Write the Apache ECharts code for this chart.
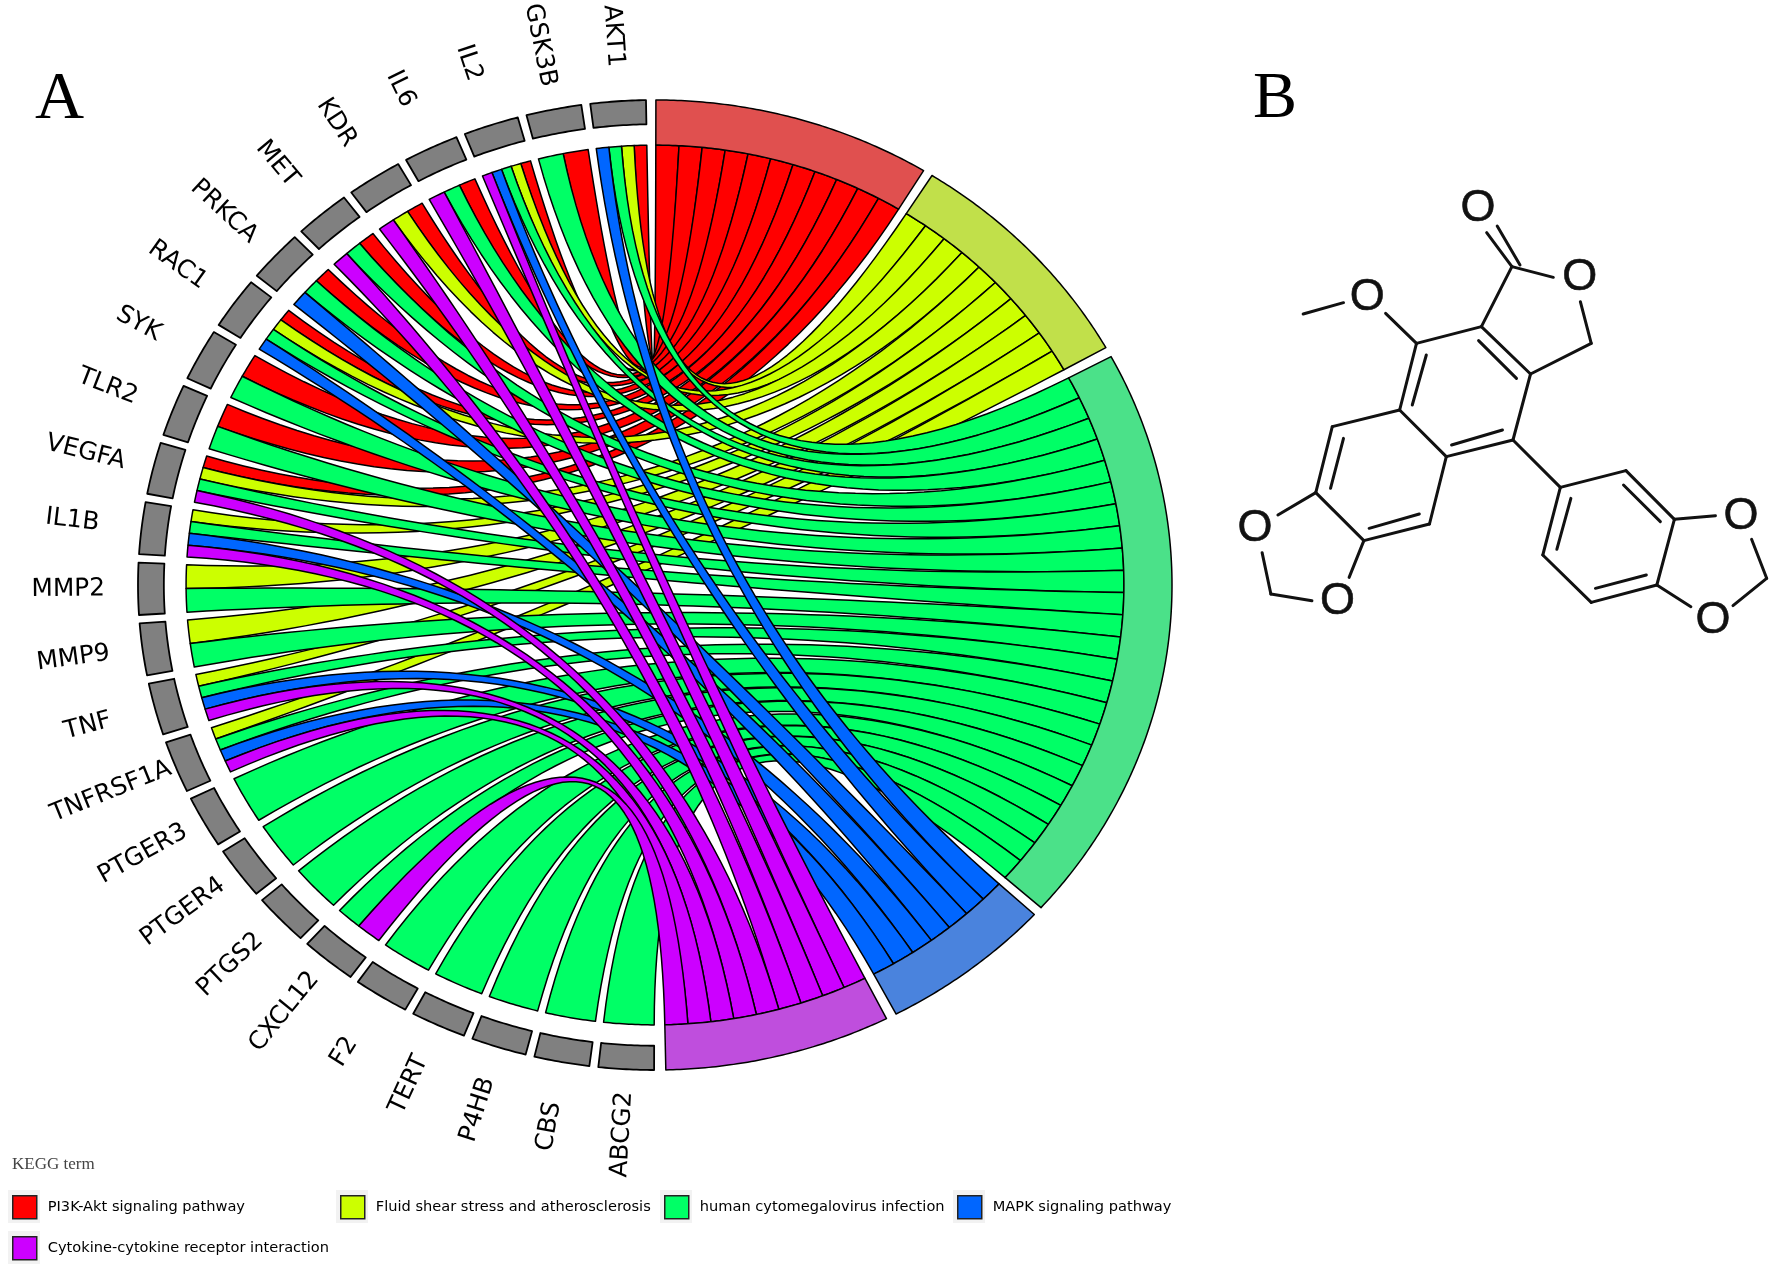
<!DOCTYPE html>
<html><head><meta charset="utf-8">
<style>html,body{margin:0;padding:0;background:#fff}#c{width:1770px;height:1268px}</style>
<script src="https://cdn.jsdelivr.net/npm/echarts@6/dist/echarts.min.js"></script>
</head><body><div id="c"></div>
<script>
// ---- data ----
const genes = ['AKT1','GSK3B','IL2','IL6','KDR','MET','PRKCA','RAC1','SYK','TLR2','VEGFA','IL1B','MMP2','MMP9','TNF','TNFRSF1A','PTGER3','PTGER4','PTGS2','CXCL12','F2','TERT','P4HB','CBS','ABCG2'];
const terms = ['PI3K-Akt signaling pathway','Fluid shear stress and atherosclerosis','human cytomegalovirus infection','MAPK signaling pathway','Cytokine-cytokine receptor interaction'];
const pi3kGenes = ['AKT1','GSK3B','IL2','IL6','KDR','MET','PRKCA','RAC1','SYK','TLR2','VEGFA'];
const fluidGenes = ['AKT1','IL2','KDR','RAC1','VEGFA','IL1B','MMP2','MMP9','TNF','TNFRSF1A'];
const hcmvGenes = ['AKT1','GSK3B','IL2','IL6','MET','PRKCA','RAC1','SYK','TLR2','VEGFA','IL1B','MMP2','MMP9','TNF','TNFRSF1A','PTGER3','PTGER4','PTGS2','CXCL12','F2','TERT','P4HB','CBS','ABCG2'];
const mapkGenes = ['AKT1','IL2','PRKCA','RAC1','IL1B','TNF','TNFRSF1A'];
const cytokineGenes = ['IL2','IL6','KDR','MET','VEGFA','IL1B','TNF','TNFRSF1A','CXCL12'];
const termGenes = [pi3kGenes, fluidGenes, hcmvGenes, mapkGenes, cytokineGenes];

// ---- styling / layout ----
const ribbonColors = ['#FF0000','#CCFF00','#00FF66','#0066FF','#CC00FF'];
const bandColors = ['#E0504F','#C1E04A','#4BE189','#4A83DD','#BF4EDD'];
const termStartDeg = [0.1,32.4,61.9,132.8,153.4];
const termEndDeg = [31.3,60.7,131.7,152.2,178.8];
const geneFirstDeg = 359, geneLastDeg = 180.1, geneGapDeg = 1;
const R_OUT = 1, R_IN = 0.907, R_GENE_OUT = 1, R_GENE_IN = 0.95, R_LABEL = 1.135;
const CX = 655, CY = 585, RX = 517, RY = 485, W = 1770, H = 1268;
const rad = d => d * Math.PI / 180;
const unit = (r, deg) => [r * Math.sin(rad(deg)), r * Math.cos(rad(deg))];
const genePeriod = (geneFirstDeg - geneLastDeg + geneGapDeg) / genes.length;
const geneBlock = genePeriod - geneGapDeg;
const geneHi = i => geneFirstDeg - i * genePeriod;

function arc(r, a, b) {
  const n = Math.max(2, Math.ceil(Math.abs(b - a) / 0.4));
  const p = [];
  for (let i = 0; i <= n; i++) p.push(unit(r, a + (b - a) * i / n));
  return p;
}
function quadViaCentre(p0, p2) {
  const p = [];
  for (let i = 1; i < 48; i++) {
    const t = i / 48, u = 1 - t;
    p.push([u * u * p0[0] + t * t * p2[0], u * u * p0[1] + t * t * p2[1]]);
  }
  return p;
}
const bandShape = (r0, r1, a, b) => arc(r1, a, b).concat(arc(r0, b, a));

// ribbon table built from the lists above
const geneTermsOf = g => terms.map((_, t) => t).filter(t => termGenes[t].includes(g));
function ribbonRows(t) {
  const n = termGenes[t].length, step = (termEndDeg[t] - termStartDeg[t]) / n;
  return termGenes[t].map((g, k) => {
    const gi = genes.indexOf(g), own = geneTermsOf(g), sub = geneBlock / own.length, q = own.indexOf(t);
    const gHi = geneHi(gi) - q * sub;
    return [gHi - sub, gHi, termStartDeg[t] + k * step, termStartDeg[t] + (k + 1) * step];
  });
}

const xAxis = {type:'value', min:(0 - CX) / RX, max:(W - CX) / RX, show:false};
const yAxis = {type:'value', min:(CY - H) / RY, max:CY / RY, show:false};

const polygon = (api, pts, fill, lw) => ({
  type:'polygon',
  shape:{points:pts.map(p => api.coord(p))},
  style:{fill, stroke:'#000', lineWidth:lw, lineJoin:'round'}
});

const ribbonSeries = terms.map((name, t) => ({
  type:'custom', name, coordinateSystem:'cartesian2d', silent:true, clip:false, z:3,
  itemStyle:{color:ribbonColors[t]},
  encode:{x:0, y:1},
  data:ribbonRows(t),
  renderItem:(params, api) => {
    const g0 = api.value(0), g1 = api.value(1), t0 = api.value(2), t1 = api.value(3);
    const a = arc(R_IN, g0, g1), b = arc(R_IN, t0 + 360, t1 + 360);
    const pts = a.concat(quadViaCentre(a[a.length - 1], b[0]), b, quadViaCentre(b[b.length - 1], a[0]));
    return polygon(api, pts, ribbonColors[t], 1.5);
  }
}));

const termBandSeries = {
  type:'custom', coordinateSystem:'cartesian2d', silent:true, clip:false, z:4,
  data:terms.map((_, t) => [termStartDeg[t], termEndDeg[t], t]),
  renderItem:(params, api) => polygon(api, bandShape(R_IN, R_OUT, api.value(0), api.value(1)), bandColors[api.value(2)], 1.5)
};
const geneBandSeries = {
  type:'custom', coordinateSystem:'cartesian2d', silent:true, clip:false, z:4,
  data:genes.map((_, i) => [geneHi(i) - geneBlock, geneHi(i)]),
  renderItem:(params, api) => polygon(api, bandShape(R_GENE_IN, R_GENE_OUT, api.value(0), api.value(1)), '#808080', 1.8)
};
const geneLabelSeries = {
  type:'custom', coordinateSystem:'cartesian2d', silent:true, clip:false, z:5,
  data:genes.map((g, i) => [geneHi(i) - geneBlock / 2, g]),
  renderItem:(params, api) => {
    const phi = api.value(0), p = api.coord(unit(R_LABEL, phi));
    return {type:'text', x:p[0], y:p[1], rotation:rad(270 - phi),
      style:{text:genes[params.dataIndex], x:0, y:0, align:'center', verticalAlign:'middle',
        font:'24.8px "DejaVu Sans"', fill:'#000'}};
  }
};

// ---- legend layout ----
const legendLefts = [12, 340, 664, 957, 12], legendTops = [1195, 1195, 1195, 1195, 1236];
const legends = terms.map((name, t) => ({
  data:[name], left:legendLefts[t], top:legendTops[t], padding:0, orient:'horizontal',
  itemWidth:24, itemHeight:23, icon:'rect', selectedMode:false,
  itemStyle:{color:ribbonColors[t], borderColor:'#222', borderWidth:1.5},
  textStyle:{fontFamily:'DejaVu Sans', fontSize:14.6, color:'#000', padding:[0,0,0,6]}
}));
const swatchBacks = terms.map((_, t) => ({type:'rect', z:0,
  shape:{x:legendLefts[t] - 4, y:legendTops[t] - 5, width:32, height:33}, style:{fill:'#F2F2F2'}}));

// ---- panel B: structural formula, drawn as an illustration ----
const molOriginX = 1220, molOriginY = 170, molScaleX = 2.85, molScaleY = 3;
const bonds = [
[237,432,352,398],[472,430,560,520],[560,520,745,470],[745,470,885,612],[885,612,835,810],[835,810,645,860],[645,860,512,720],[512,720,560,520],
[588,555,548,705],[737,512,845,625],[805,780,660,825],
[745,470,832,290],[832,290,950,322],[1027,395,1058,520],[1058,520,885,612],[760,188,832,290],[790,168,855,285],
[512,720,320,770],[320,770,273,968],[273,968,410,1112],[410,1112,597,1062],[597,1062,645,860],[352,805,315,955],[425,1075,568,1032],
[273,968,165,1035],[120,1148,145,1272],[145,1272,262,1292],[368,1222,410,1112],
[835,810,970,952],[970,952,1157,902],[1157,902,1295,1048],[1295,1048,1245,1245],[1245,1245,1058,1297],[1058,1297,920,1155],[920,1155,970,952],
[1000,985,960,1138],[1150,945,1255,1055],[1215,1215,1070,1255],
[1295,1048,1412,1037],[1515,1108,1558,1225],[1558,1225,1462,1307],[1245,1245,1342,1310]];
const oxygens = [[735,110],[420,378],[1025,318],[100,1070],[335,1290],[1485,1035],[1405,1345]];
const mx = v => molOriginX + v / molScaleX, my = v => molOriginY + v / molScaleY;
const molecule = bonds.map(b => ({type:'line', shape:{x1:mx(b[0]), y1:my(b[1]), x2:mx(b[2]), y2:my(b[3])},
  style:{stroke:'#111', lineWidth:3, lineCap:'round'}}))
  .concat(oxygens.map(o => ({type:'text', x:mx(o[0]), y:my(o[1]) + 2,
    style:{text:'O', align:'center', verticalAlign:'middle', font:'45px "Liberation Sans"', fill:'#111', stroke:'#111', lineWidth:0.6}})));

const chart = echarts.init(document.getElementById('c'), null, {renderer:'canvas'});
chart.setOption({
  animation:false, backgroundColor:'#fff',
  grid:{left:0, right:0, top:0, bottom:0, containLabel:false},
  xAxis, yAxis, legend:legends,
  series:[...ribbonSeries, termBandSeries, geneBandSeries, geneLabelSeries],
  graphic:{elements:[
    ...swatchBacks,
    {type:'text', x:35, y:100, style:{text:'A', font:'68px "Liberation Serif"', fill:'#000', verticalAlign:'middle'}},
    {type:'text', x:1253, y:100, style:{text:'B', font:'66px "Liberation Serif"', fill:'#000', verticalAlign:'middle'}},
    {type:'text', x:12, y:1165, style:{text:'KEGG term', font:'17px "Liberation Serif"', fill:'#444', verticalAlign:'middle'}},
    ...molecule
  ]}
});
</script></body></html>
